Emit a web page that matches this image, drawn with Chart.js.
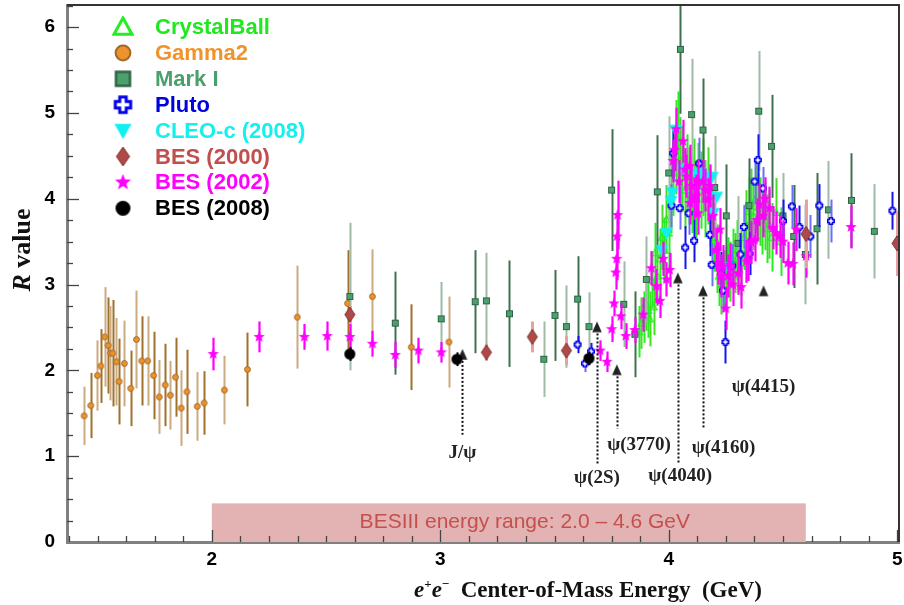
<!DOCTYPE html>
<html>
<head>
<meta charset="utf-8">
<script src="https://cdn.jsdelivr.net/npm/chart.js@4.4.1/dist/chart.umd.min.js"></script>
<style>
  html, body { margin: 0; padding: 0; background: #fff; }
</style>
</head>
<body>
<canvas id="rChart" width="904" height="605"></canvas>
<script>
// ---- data: energy (GeV), R, error ----
const gammaE = [1.441,1.470,1.499,1.514,1.531,1.546,1.556,1.566,1.582,1.594,1.617,1.645,1.670,1.693,1.719,1.745,1.770,1.796,1.818,1.841,1.866,1.891,1.936,1.966,2.055,2.156,2.374,2.594,2.703,2.873,3.038];
const gammaR = [1.47,1.59,1.94,2.05,2.39,2.29,2.20,2.20,2.10,1.87,2.08,1.79,2.36,2.11,2.11,1.94,1.69,1.83,1.71,1.92,1.56,1.75,1.58,1.62,1.77,2.01,2.62,2.78,2.86,2.27,2.33];
const gammaErr = [0.34,0.38,0.41,0.43,0.58,0.56,0.55,0.62,0.51,0.50,0.50,0.44,0.57,0.52,0.52,0.51,0.43,0.48,0.40,0.46,0.44,0.49,0.40,0.37,0.40,0.43,0.60,0.62,0.55,0.50,0.53];

const markE = [2.604,2.803,3.004,3.153,3.202,3.303,3.453,3.502,3.552,3.601,3.651,3.750,3.803,3.852,3.902,3.950,4.000,4.051,4.100,4.150,4.201,4.252,4.303,4.351,4.394,4.450,4.500,4.547,4.598,4.649,4.699,4.800,4.900];
const markR = [2.86,2.55,2.60,2.80,2.81,2.66,2.13,2.64,2.51,2.83,2.51,4.10,2.77,2.42,3.06,4.08,4.30,5.74,4.98,4.80,4.13,3.80,3.48,3.92,5.02,4.61,3.80,3.56,3.35,3.65,3.87,3.98,3.62];
const markErr = [0.86,0.60,0.43,0.60,0.56,0.62,0.44,0.53,0.48,0.50,0.40,0.71,0.50,0.50,0.50,0.66,0.66,0.75,0.65,0.60,0.60,0.60,0.55,0.55,0.70,0.60,0.50,0.60,0.58,0.65,0.57,0.55,0.55];

const cbE = [3.870,3.880,3.890,3.900,3.910,3.917,3.925,3.934,3.940,3.950,3.960,3.970,3.980,3.990,4.000,4.010,4.020,4.030,4.040,4.050,4.060,4.070,4.080,4.090,4.100,4.110,4.120,4.130,4.140,4.150,4.160,4.170,4.180,4.190,4.200,4.210,4.220,4.230,4.240,4.250,4.260,4.270,4.280,4.290,4.300,4.317,4.330,4.340,4.350,4.360,4.370,4.380,4.390,4.400,4.410,4.420,4.430,4.440,4.450,4.470,4.490];
const cbR = [2.45,2.55,2.62,2.78,2.70,2.60,3.05,2.74,3.37,3.10,3.30,3.55,3.40,3.76,3.60,4.05,4.30,4.60,4.70,4.45,4.35,4.10,4.30,4.15,4.05,4.25,4.00,4.20,4.10,4.25,4.00,4.15,3.90,3.75,3.55,3.30,3.10,3.00,3.05,3.10,3.20,3.15,3.30,3.25,3.40,3.25,3.55,3.70,3.85,3.95,3.80,4.00,3.90,3.85,3.75,3.80,3.65,3.70,3.55,3.84,3.50];
const cbErr = [0.30,0.30,0.30,0.32,0.32,0.32,0.33,0.33,0.35,0.35,0.35,0.38,0.38,0.40,0.40,0.45,0.50,0.55,0.55,0.50,0.50,0.45,0.45,0.45,0.45,0.45,0.45,0.45,0.45,0.45,0.45,0.45,0.45,0.40,0.40,0.40,0.35,0.35,0.35,0.35,0.35,0.35,0.35,0.35,0.35,0.38,0.38,0.40,0.40,0.40,0.40,0.40,0.40,0.40,0.40,0.40,0.40,0.40,0.40,0.40,0.40];

const plutoE = [3.601,3.633,3.660,4.012,4.019,4.048,4.072,4.087,4.111,4.133,4.180,4.188,4.230,4.238,4.248,4.278,4.314,4.329,4.354,4.376,4.390,4.412,4.500,4.539,4.572,4.620,4.659,4.710,4.979];
const plutoR = [2.30,2.08,2.22,3.92,4.53,3.89,3.43,3.83,3.51,4.41,3.58,3.23,3.13,2.93,2.33,3.22,3.35,3.67,3.36,4.20,4.45,4.12,3.74,3.91,3.67,3.56,3.92,3.74,3.86];
const plutoErr = [0.10,0.10,0.10,0.25,0.30,0.25,0.25,0.25,0.25,0.30,0.25,0.25,0.25,0.25,0.25,0.25,0.25,0.25,0.25,0.25,0.30,0.25,0.25,0.25,0.25,0.25,0.25,0.25,0.22];

const cleoE = [3.970,3.990,4.010,4.015,4.030,4.060,4.120,4.140,4.170,4.190,4.195,4.210,4.260];
const cleoR = [3.40,3.60,3.97,4.07,4.80,4.34,4.28,4.30,4.25,4.25,3.83,4.02,3.20];

const bes00E = [2.604,3.202,3.403,3.552,4.601,4.999];
const bes00R = [2.65,2.21,2.39,2.23,3.59,3.48];
const bes00Err = [0.10,0.10,0.18,0.17,0.40,0.38];

const bes02E = [2.006,2.207,2.405,2.505,2.604,2.703,2.803,2.904,3.004,3.700,3.730,3.750,3.760,3.768,3.772,3.774,3.776,3.790,3.812,3.851,3.888,3.924,3.946,3.961,3.975,3.990,4.004,4.019,4.026,4.033,4.045,4.062,4.070,4.077,4.092,4.092,4.099,4.110,4.120,4.128,4.128,4.150,4.160,4.171,4.180,4.193,4.205,4.216,4.223,4.230,4.238,4.249,4.260,4.267,4.280,4.303,4.317,4.340,4.348,4.361,4.376,4.385,4.397,4.412,4.420,4.441,4.456,4.470,4.485,4.500,4.521,4.543,4.558,4.601,4.798];
const bes02R = [2.19,2.39,2.39,2.40,2.39,2.31,2.18,2.23,2.21,2.23,2.10,2.48,2.78,3.14,3.30,3.56,3.81,2.63,2.40,2.47,2.65,3.19,2.98,2.81,3.30,3.06,3.17,4.44,4.57,4.81,4.20,4.67,4.34,4.26,4.38,3.95,4.15,4.00,4.03,4.20,3.83,4.20,4.10,3.99,4.15,3.80,3.40,3.25,3.64,3.10,3.21,2.72,3.10,3.23,3.00,3.13,2.97,3.27,3.29,3.49,3.52,3.75,3.93,3.80,4.00,3.89,3.66,3.60,3.56,3.50,3.25,3.24,3.64,3.33,3.67];
const bes02Err = [0.19,0.18,0.15,0.17,0.15,0.15,0.15,0.15,0.12,0.12,0.12,0.15,0.15,0.20,0.25,0.25,0.40,0.15,0.15,0.15,0.20,0.20,0.20,0.20,0.20,0.20,0.20,0.25,0.25,0.25,0.25,0.25,0.25,0.25,0.25,0.25,0.25,0.25,0.25,0.25,0.25,0.25,0.25,0.25,0.25,0.25,0.25,0.25,0.25,0.25,0.25,0.25,0.25,0.25,0.25,0.25,0.25,0.25,0.25,0.25,0.25,0.25,0.25,0.25,0.25,0.25,0.25,0.25,0.25,0.25,0.25,0.25,0.25,0.25,0.25];

const bes08E = [2.604,3.073,3.651];
const bes08R = [2.19,2.13,2.14];
const bes08Err = [0.08,0.08,0.08];

// resonances
const resName = ['J/ψ','ψ(2S)','ψ(3770)','ψ(4040)','ψ(4160)','ψ(4415)'];
const resE = [3.097,3.686,3.773,4.040,4.150,4.415];
const resR = [2.18,2.50,2.00,3.07,2.92,2.92];
const resLineEnd = [1.25,0.91,1.32,0.92,1.32,null];

const xTickVals = [2,3,4,5];
const yTickVals = [0,1,2,3,4,5,6];
const bandRange = [2.0, 4.6];
const bandTop = 0.45;
const bandText = 'BESIII energy range: 2.0 \u2013 4.6 GeV';

// label placement (energy, R) for resonance names
const resLabelAt = [[3.097,1.04],[3.686,0.74],[3.870,1.13],[4.050,0.77],[4.240,1.10],[4.415,1.80]];

function pts(xs, ys) { return xs.map((x, i) => ({ x: x, y: ys[i] })); }

function makeMarker(kind, w) {
  const c = document.createElement('canvas');
  const h = kind === 'bes00' ? Math.round(w * 1.45) : w;
  c.width = w + 4; c.height = h + 4;
  const g = c.getContext('2d');
  const cx = c.width / 2, cy = c.height / 2, r = w / 2;
  g.lineJoin = 'miter';
  if (kind === 'gamma') {
    g.beginPath(); g.arc(cx, cy, r - 0.6, 0, Math.PI * 2);
    g.fillStyle = '#f0922b'; g.fill(); g.strokeStyle = '#9c6a2a'; g.lineWidth = w > 10 ? 2 : 1; g.stroke();
  } else if (kind === 'mark') {
    g.fillStyle = '#4ca06c'; g.fillRect(cx - r, cy - r, w, w);
    g.strokeStyle = '#2e6445'; g.lineWidth = w > 10 ? 2.5 : 1; g.strokeRect(cx - r + 0.5, cy - r + 0.5, w - 1, w - 1);
  } else if (kind === 'cb') {
    g.beginPath(); g.moveTo(cx, cy - r); g.lineTo(cx + r, cy + r * 0.8); g.lineTo(cx - r, cy + r * 0.8); g.closePath();
    g.strokeStyle = '#22ee22'; g.lineWidth = w > 10 ? 3 : 1.3; g.stroke();
  } else if (kind === 'pluto') {
    const a = r * 0.38, q = r - 0.8;
    const p = [[-a,-q],[a,-q],[a,-a],[q,-a],[q,a],[a,a],[a,q],[-a,q],[-a,a],[-q,a],[-q,-a],[-a,-a]];
    g.beginPath(); p.forEach((v, i) => i ? g.lineTo(cx + v[0], cy + v[1]) : g.moveTo(cx + v[0], cy + v[1])); g.closePath();
    g.fillStyle = '#fff'; g.fill(); g.strokeStyle = '#0000ee'; g.lineWidth = w > 10 ? 3 : 1.6; g.stroke();
  } else if (kind === 'cleo') {
    g.beginPath(); g.moveTo(cx - r, cy - r * 0.8); g.lineTo(cx + r, cy - r * 0.8); g.lineTo(cx, cy + r); g.closePath();
    g.fillStyle = '#10f0f0'; g.fill();
  } else if (kind === 'bes00') {
    const hh = h / 2;
    g.beginPath(); g.moveTo(cx, cy - hh); g.lineTo(cx + r, cy); g.lineTo(cx, cy + hh); g.lineTo(cx - r, cy); g.closePath();
    g.fillStyle = '#b04a48'; g.fill(); g.strokeStyle = '#7a2e2e'; g.lineWidth = 1; g.stroke();
  } else if (kind === 'bes02') {
    g.beginPath();
    for (let k = 0; k < 10; k++) {
      const rr = k % 2 ? r * 0.42 : r;
      const ang = -Math.PI / 2 + k * Math.PI / 5;
      const x = cx + rr * Math.cos(ang), y = cy + rr * Math.sin(ang);
      k ? g.lineTo(x, y) : g.moveTo(x, y);
    }
    g.closePath(); g.fillStyle = '#ff00ff'; g.fill();
  } else if (kind === 'bes08') {
    g.beginPath(); g.arc(cx, cy, r, 0, Math.PI * 2); g.fillStyle = '#000'; g.fill();
  } else if (kind === 'res') {
    g.beginPath(); g.moveTo(cx, cy - r); g.lineTo(cx + r * 0.8, cy + r * 0.8); g.lineTo(cx - r * 0.8, cy + r * 0.8); g.closePath();
    g.fillStyle = '#222'; g.fill();
  }
  return c;
}

const legendRows = [
  { kind: 'cb', text: 'CrystalBall', color: '#1ee81e', size: 18 },
  { kind: 'gamma', text: 'Gamma2', color: '#f0932c', size: 16 },
  { kind: 'mark', text: 'Mark I', color: '#4aa06c', size: 15 },
  { kind: 'pluto', text: 'Pluto', color: '#0000e0', size: 17 },
  { kind: 'cleo', text: 'CLEO-c (2008)', color: '#14f0f0', size: 17 },
  { kind: 'bes00', text: 'BES (2000)', color: '#c0504d', size: 13 },
  { kind: 'bes02', text: 'BES (2002)', color: '#ff00ff', size: 17 },
  { kind: 'bes08', text: 'BES (2008)', color: '#000000', size: 15 }
];

const errBars = {
  id: 'errBars',
  beforeDatasetDraw(chart, args) {
    const ds = chart.data.datasets[args.index];
    if (!ds.errs) return;
    const xs = chart.scales.x, ys = chart.scales.y, ctx = chart.ctx, a = chart.chartArea;
    ctx.save();
    ctx.beginPath(); ctx.rect(a.left, a.top, a.right - a.left, a.bottom - a.top); ctx.clip();
    ctx.lineWidth = ds.errWidth || 2;
    ds.data.forEach((p, i) => {
      const e = ds.errs[i];
      if (!e) return;
      const px = Math.round(xs.getPixelForValue(p.x)) + 0.5;
      ctx.strokeStyle = ds.errColors[i % ds.errColors.length];
      ctx.beginPath();
      ctx.moveTo(px, ys.getPixelForValue(p.y - e));
      ctx.lineTo(px, ys.getPixelForValue(p.y + e));
      ctx.stroke();
    });
    ctx.restore();
  }
};

const decor = {
  id: 'decor',
  beforeDatasetsDraw(chart) {
    const xs = chart.scales.x, ys = chart.scales.y, ctx = chart.ctx;
    const x0 = xs.getPixelForValue(bandRange[0]), x1 = xs.getPixelForValue(bandRange[1]);
    const y0 = ys.getPixelForValue(0), y1 = ys.getPixelForValue(bandTop);
    ctx.save();
    ctx.fillStyle = '#e3b2b2';
    ctx.fillRect(x0, y1, x1 - x0, y0 - y1);
    ctx.fillStyle = '#c4504e';
    ctx.font = '21px "Liberation Sans", Arial, sans-serif';
    ctx.textAlign = 'center'; ctx.textBaseline = 'middle';
    ctx.fillText(bandText, xs.getPixelForValue(3.37), ys.getPixelForValue(0.23));
    ctx.restore();
  },
  afterDatasetsDraw(chart) {
    const xs = chart.scales.x, ys = chart.scales.y, ctx = chart.ctx, a = chart.chartArea;
    ctx.save();
    // resonance dotted lines and names
    ctx.strokeStyle = '#111'; ctx.lineWidth = 2; ctx.setLineDash([2, 2]);
    resE.forEach((e, i) => {
      if (resLineEnd[i] == null) return;
      const px = Math.round(xs.getPixelForValue(e)) + 0.5;
      ctx.beginPath();
      ctx.moveTo(px, ys.getPixelForValue(resR[i]) + 6);
      ctx.lineTo(px, ys.getPixelForValue(resLineEnd[i]));
      ctx.stroke();
    });
    ctx.setLineDash([]);
    ctx.fillStyle = '#222';
    ctx.font = 'bold 19px "Liberation Serif", "Times New Roman", serif';
    ctx.textAlign = 'center'; ctx.textBaseline = 'middle';
    resName.forEach((n, i) => {
      ctx.fillText(n, xs.getPixelForValue(resLabelAt[i][0]), ys.getPixelForValue(resLabelAt[i][1]));
    });

    // inward tick marks
    ctx.strokeStyle = '#444'; ctx.lineWidth = 1.3;
    for (let v = 0.25; v < ys.max; v += 0.25) {
      const py = Math.round(ys.getPixelForValue(v)) + 0.5;
      const len = Math.abs(v - Math.round(v)) < 1e-6 ? 12 : 6;
      ctx.beginPath(); ctx.moveTo(a.left, py); ctx.lineTo(a.left + len, py); ctx.stroke();
    }
    for (let v = 1.375; v < xs.max; v += 0.125) {
      const px = Math.round(xs.getPixelForValue(v)) + 0.5;
      const len = Math.abs(v - Math.round(v)) < 1e-6 ? 12 : 6;
      ctx.beginPath(); ctx.moveTo(px, a.bottom); ctx.lineTo(px, a.bottom - len); ctx.stroke();
    }
    // frame top/right
    ctx.strokeStyle = '#333'; ctx.lineWidth = 2;
    ctx.beginPath(); ctx.moveTo(a.left, a.top); ctx.lineTo(a.right, a.top); ctx.lineTo(a.right, a.bottom); ctx.stroke();

    // legend
    ctx.textAlign = 'left'; ctx.textBaseline = 'middle';
    ctx.font = 'bold 22px "Liberation Sans", Arial, sans-serif';
    legendRows.forEach((row, i) => {
      const cy = 27 + i * 25.9;
      const m = makeMarker(row.kind, row.size);
      ctx.drawImage(m, 123 - m.width / 2, cy - m.height / 2);
      ctx.fillStyle = row.color;
      ctx.fillText(row.text, 155, cy + 1);
    });

    // axis titles
    ctx.fillStyle = '#111';
    ctx.textBaseline = 'alphabetic';
    const serif = '"Liberation Serif", "Times New Roman", serif';
    ctx.save();
    ctx.translate(30, 250); ctx.rotate(-Math.PI / 2);
    ctx.font = 'italic bold 26px ' + serif;
    const wR = ctx.measureText('R').width;
    ctx.font = 'bold 26px ' + serif;
    const wV = ctx.measureText(' value').width;
    let sx = -(wR + wV) / 2;
    ctx.font = 'italic bold 26px ' + serif; ctx.fillText('R', sx, 0);
    ctx.font = 'bold 26px ' + serif; ctx.fillText(' value', sx + wR, 0);
    ctx.restore();

    const parts = [
      { t: 'e', f: 'italic bold 23px ' + serif, dy: 0 },
      { t: '+', f: 'bold 13px ' + serif, dy: -9 },
      { t: 'e', f: 'italic bold 23px ' + serif, dy: 0 },
      { t: '\u2212', f: 'bold 13px ' + serif, dy: -9 },
      { t: '  Center-of-Mass Energy  (GeV)', f: 'bold 23px ' + serif, dy: 0 }
    ];
    let tw = 0;
    parts.forEach(p => { ctx.font = p.f; p.w = ctx.measureText(p.t).width; tw += p.w; });
    let tx = 588 - tw / 2;
    parts.forEach(p => { ctx.font = p.f; ctx.fillText(p.t, tx, 597 + p.dy); tx += p.w; });
    ctx.restore();
  }
};

const tickFont = { family: 'Liberation Sans', weight: 'bold', size: 19 };

new Chart(document.getElementById('rChart'), {
  type: 'scatter',
  data: {
    datasets: [
      { label: 'BES (2008)', data: pts(bes08E, bes08R), errs: bes08Err, errColors: ['#000'], errWidth: 2,
        pointStyle: makeMarker('bes08', 11), order: 1 },
      { label: 'resonances', data: pts(resE, resR), pointStyle: makeMarker('res', 12), order: 2 },
      { label: 'BES (2000)', data: pts(bes00E, bes00R), errs: bes00Err, errColors: ['#e8a0a0'], errWidth: 3,
        pointStyle: makeMarker('bes00', 10), order: 3 },
      { label: 'BES (2002)', data: pts(bes02E, bes02R), errs: bes02Err, errColors: ['#ff00ff'], errWidth: 2.2,
        pointStyle: makeMarker('bes02', 12), order: 4 },
      { label: 'CLEO-c (2008)', data: pts(cleoE, cleoR), pointStyle: makeMarker('cleo', 13), order: 5 },
      { label: 'Pluto', data: pts(plutoE, plutoR), errs: plutoErr, errColors: ['#1414ee', '#6c6cff'], errWidth: 2,
        pointStyle: makeMarker('pluto', 8), order: 6 },
      { label: 'Mark I', data: pts(markE, markR), errs: markErr, errColors: ['#a0baa8', '#3f7050'], errWidth: 2,
        pointStyle: makeMarker('mark', 7), order: 7 },
      { label: 'CrystalBall', data: pts(cbE, cbR), errs: cbErr, errColors: ['#22ee22', '#44dd22'], errWidth: 2,
        pointStyle: makeMarker('cb', 7), order: 8 },
      { label: 'Gamma2', data: pts(gammaE, gammaR), errs: gammaErr, errColors: ['#cbab80', '#a0702c'], errWidth: 2,
        pointStyle: makeMarker('gamma', 7), order: 9 }
    ]
  },
  options: {
    responsive: false,
    animation: false,
    events: [],
    layout: { padding: { top: 5, right: 4, left: 0, bottom: 0 } },
    plugins: { legend: { display: false }, tooltip: { enabled: false } },
    scales: {
      x: {
        type: 'linear', min: 1.366, max: 5.008,
        afterFit: s => { s.height = 63; s.paddingLeft = 0; s.paddingRight = 0; },
        afterBuildTicks: s => { s.ticks = xTickVals.map(v => ({ value: v })); },
        grid: { display: false, drawTicks: false },
        border: { display: true, color: '#808080', width: 3 },
        ticks: { font: tickFont, color: '#000', padding: 6, autoSkip: false, maxRotation: 0 }
      },
      y: {
        type: 'linear', min: 0, max: 6.257,
        afterFit: s => { s.width = 67; s.paddingTop = 0; s.paddingBottom = 0; },
        afterBuildTicks: s => { s.ticks = yTickVals.map(v => ({ value: v })); },
        grid: { display: false, drawTicks: false },
        border: { display: true, color: '#808080', width: 3 },
        ticks: { font: tickFont, color: '#000', padding: 12, autoSkip: false }
      }
    }
  },
  plugins: [errBars, decor]
});
</script>
</body>
</html>
